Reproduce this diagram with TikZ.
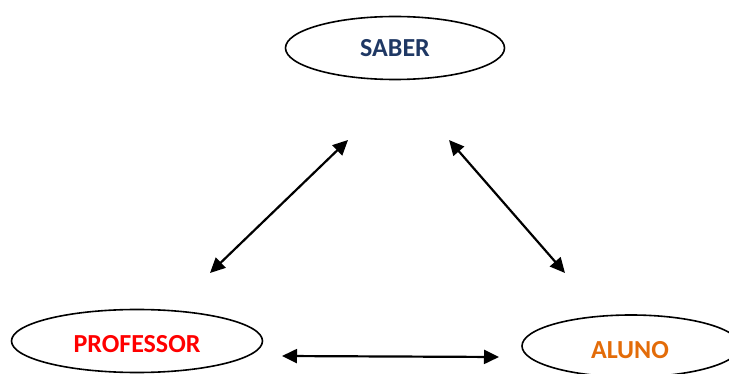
\documentclass[tikz,border=0pt]{standalone}
\usepackage{fontspec}
\setmainfont{Carlito}
\usetikzlibrary{shapes.geometric,arrows.meta}

\definecolor{saberblue}{HTML}{1F3864}
\definecolor{alunoorange}{HTML}{E36C09}

\begin{document}
\begin{tikzpicture}[x=1pt,y=-1pt,
  polo/.style={
    ellipse,
    draw=black,
    line width=1.6pt,
    inner sep=0pt
  },
  rotulo/.style={font=\fontsize{26}{30}\selectfont\bfseries},
  relacao/.style={
    {Triangle[length=15pt,width=14pt]}-{Triangle[length=15pt,width=14pt]},
    line width=2.2pt
  }
]
\useasboundingbox (0,0) rectangle (729,374);

% the three poles of the triangle
\node[polo, minimum width=219pt, minimum height=63pt] (saber) at (395,48) {};
\node[rotulo, text=saberblue] (saberlbl) at (395,48) {SABER};

\node[polo, minimum width=251pt, minimum height=63pt] (professor) at (137,341) {};
\node[rotulo, text=red] (professorlbl) at (137,344) {PROFESSOR};

\node[polo, minimum width=218pt, minimum height=62pt] (aluno) at (631,346) {};
\node[rotulo, text=alunoorange] (alunolbl) at (630,350) {ALUNO};

% arrow ends
\coordinate (sp) at (348,140);
\coordinate (ps) at (210,273);
\coordinate (sa) at (449,140);
\coordinate (as) at (565,273);
\coordinate (pa) at (282,356);
\coordinate (ap) at (499,357);

\draw[relacao] (ps) -- (sp);
\draw[relacao] (sa) -- (as);
\draw[relacao] (pa) -- (ap);

\end{tikzpicture}
\end{document}
